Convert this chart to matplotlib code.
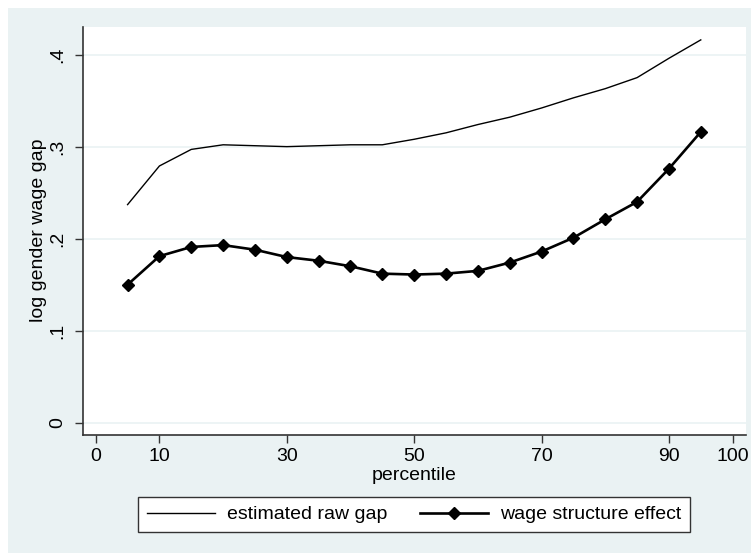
import matplotlib.pyplot as plt
from matplotlib.patches import Rectangle

plt.rcParams['font.family'] = ['Liberation Sans', 'DejaVu Sans']

# percentiles of the wage distribution
pctile = [5, 10, 15, 20, 25, 30, 35, 40, 45, 50, 55, 60, 65, 70, 75, 80, 85, 90, 95]

# estimated raw gap
raw_gap = [0.237, 0.279, 0.297, 0.302, 0.301, 0.300, 0.301, 0.302, 0.302, 0.308,
           0.315, 0.324, 0.332, 0.342, 0.353, 0.363, 0.375, 0.396, 0.416]

# wage structure effect
ws_effect = [0.150, 0.181, 0.191, 0.193, 0.188, 0.180, 0.176, 0.170, 0.162, 0.161,
             0.162, 0.165, 0.174, 0.186, 0.201, 0.221, 0.240, 0.276, 0.316]

xticks = [0, 10, 30, 50, 70, 90, 100]
yticks = [0, 0.1, 0.2, 0.3, 0.4]
ytick_labels = ['0', '.1', '.2', '.3', '.4']

bg = '#eaf2f3'
fig = plt.figure(figsize=(7.51, 5.53), dpi=100)
fig.patch.set_facecolor('white')
fig.patches.append(Rectangle((8 / 751, 0), 1, (553 - 8) / 553, transform=fig.transFigure,
                             facecolor=bg, edgecolor='none', zorder=-5))

ax = fig.add_axes([83 / 751, (553 - 434.5) / 553, (746 - 83) / 751, (434.5 - 27) / 553])
ax.set_zorder(2)
ax.set_facecolor('white')

l1, = ax.plot(pctile, raw_gap, color='black', lw=1.0, label='estimated raw gap')
l2, = ax.plot(pctile, ws_effect, color='black', lw=1.9, marker='D', ms=6,
              label='wage structure effect')

ax.set_xlim(-2, 102.1)
ax.set_ylim(-0.0128, 0.430)
ax.set_xticks(xticks)
ax.set_yticks(yticks)
ax.set_yticklabels(ytick_labels, rotation=90, va='center')
ax.tick_params(labelsize=14, length=6, width=1, color='#333333', pad=4)
ax.tick_params(axis='y', pad=6)
ax.grid(axis='y', color=bg, lw=1.2)
ax.set_axisbelow(True)

for s in ['top', 'right']:
    ax.spines[s].set_visible(False)
for s in ['left', 'bottom']:
    ax.spines[s].set_color('#333333')
    ax.spines[s].set_linewidth(1.2)

ax.set_xlabel('percentile', fontsize=14, labelpad=1)
ax.set_ylabel('log gender wage gap', fontsize=14, labelpad=2)

leg = fig.legend(handles=[l1, l2], loc='center', ncol=2,
                 bbox_to_anchor=((135.7 + 692.7) / 2 / 751, (553 - 514.5) / 553),
                 fontsize=14, frameon=True, fancybox=False, handlelength=3.5,
                 handletextpad=0.6, borderpad=0.45, columnspacing=1.7)
leg.get_frame().set_facecolor('white')
leg.get_frame().set_alpha(1)
leg.get_frame().set_edgecolor('#333333')
leg.get_frame().set_linewidth(1.0)

fig.savefig('out.png', dpi=100)
